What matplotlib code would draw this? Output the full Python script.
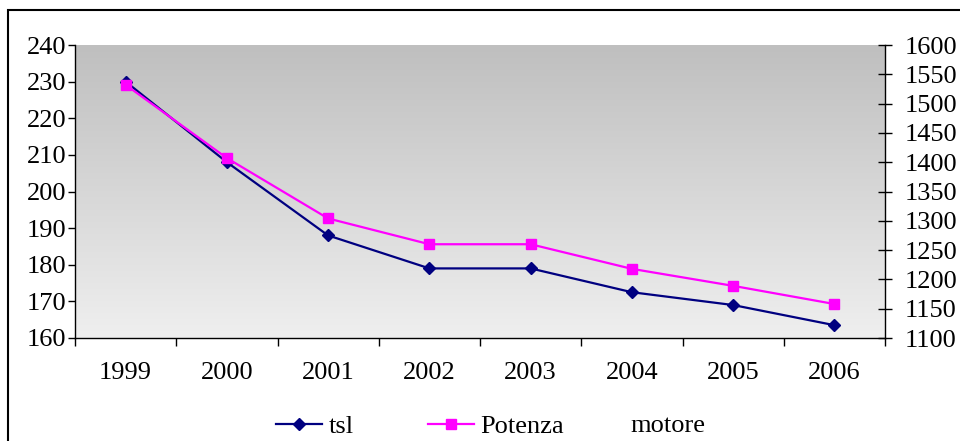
import numpy as np
import matplotlib
matplotlib.use("Agg")
import matplotlib.pyplot as plt
from matplotlib.patches import Rectangle
from matplotlib.lines import Line2D

years = ["1999", "2000", "2001", "2002", "2003", "2004", "2005", "2006"]
tsl = [230, 208, 188, 179, 179, 172.5, 169, 163.5]
potenza = [1532, 1407, 1304, 1260, 1260, 1218, 1189, 1158]
series_names = ["tsl", "Potenza", "motore"]

plt.rcParams['font.family'] = ['Liberation Serif', 'DejaVu Serif']
fs = 19

fig = plt.figure(figsize=(9.6, 4.41), dpi=100)
ax = fig.add_axes([75/960, 1 - 338/441, 810/960, 293/441])
ax2 = ax.twinx()

# gradient background, grey at top to light grey at bottom
grad = np.linspace(0, 1, 256).reshape(-1, 1)
cmap = matplotlib.colors.LinearSegmentedColormap.from_list("bg", ["#bfbfbf", "#efefef"])
ax.imshow(grad, aspect='auto', cmap=cmap, extent=[0, 1, 0, 1],
          transform=ax.transAxes, zorder=0)

x = np.arange(len(years))
ax.plot(x, tsl, color='#000080', marker='D', markersize=6, lw=1.6, zorder=3)
ax2.plot(x, potenza, color='#ff00ff', marker='s', markersize=7, lw=1.6, zorder=3)

ax.set_xlim(-0.5, len(years) - 0.5)
ax.set_ylim(160, 240)
ax.set_yticks(np.arange(160, 241, 10))
ax2.set_ylim(1100, 1600)
ax2.set_yticks(np.arange(1100, 1601, 50))

ax.set_xticks(np.arange(-0.5, len(years)), [''] * (len(years) + 1))
ax.set_xticks(x, years, minor=True)
ax.tick_params(axis='x', which='major', direction='out', length=6, width=1)
ax.tick_params(axis='x', which='minor', length=0, pad=17, labelsize=fs)
ax.tick_params(axis='y', direction='out', length=5, width=1, pad=1, labelsize=fs)
ax2.tick_params(axis='y', direction='inout', length=10, width=1, pad=9, labelsize=fs)

for a in (ax, ax2):
    a.spines['top'].set_visible(False)
    for s in ('left', 'bottom', 'right'):
        a.spines[s].set_linewidth(1)
ax.spines['right'].set_visible(False)
ax2.spines['left'].set_visible(False)
ax2.spines['bottom'].set_visible(False)

handles = [Line2D([], [], color='#000080', marker='D', markersize=6, lw=1.6),
           Line2D([], [], color='#ff00ff', marker='s', markersize=7, lw=1.6)]
fig.legend(handles, series_names[:2], loc='center', bbox_to_anchor=(420/960, 1 - 426/441),
           ncol=2, frameon=False, fontsize=fs, handlelength=1.75, handletextpad=0.25,
           columnspacing=2.8, borderpad=0)
fig.text(630/960, 1 - 426/441, series_names[2], fontsize=fs, ha='left', va='center')

# outer chart border
fig.patches.append(Rectangle((8/960, -0.1), 1.0, (441 - 10)/441 + 0.1,
                             transform=fig.transFigure, fill=False,
                             edgecolor='black', lw=1.5))

fig.savefig("out.png", dpi=100)
